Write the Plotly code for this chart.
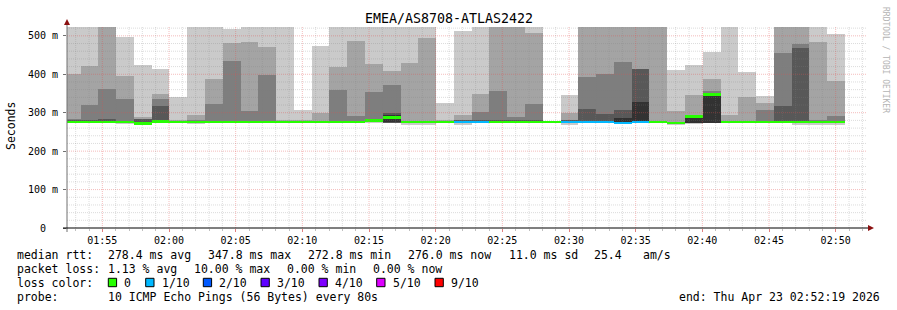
import plotly.graph_objects as go
import pandas as pd

# ---------------- data ----------------
step_start = "2026-04-23 01:52:02"   # first (partially visible) 80 s step
step_seconds = 80

# 10 sorted ping RTTs (ms) per step
rtt_sorted = [
    [274, 275, 275, 276, 276, 277, 279, 284, 402, 560],
    [274, 275, 275, 276, 276, 277, 280, 321, 422, 580],
    [274, 275, 275, 276, 276, 277, 284, 362, 560, 600],
    [270, 274, 275, 276, 276, 277, 278, 336, 396, 498],
    [269, 270, 271, 272, 272.5, 273, 283, 284, 289, 424],
    [274, 275, 276, 276, 277, 279, 318, 336, 349, 414],
    [274, 275, 275, 276, 276, 277, 278, 279, 280, 340],
    [270, 274, 275, 276, 276, 277, 278, 280, 294, 560],
    [274, 275, 275, 276, 276, 277, 278, 323, 388, 600],
    [274, 275, 275, 276, 276, 277, 278, 435, 482, 517],
    [274, 275, 275, 276, 276, 277, 278, 305, 484, 560],
    [274, 275, 275, 276, 276, 277, 278, 398, 471, 580],
    [274, 275, 275, 276, 276, 277, 278, 279, 280, 560],
    [274, 275, 275, 276, 276, 277, 278, 279, 280, 307],
    [274, 275, 275, 276, 276, 277, 278, 279, 299, 474],
    [274, 275, 275, 276, 276, 277, 278, 359, 418, 560],
    [274, 275, 275, 276, 276, 277, 278, 292, 487, 560],
    [274, 275, 276, 277, 278, 280, 282, 354, 427, 560],
    [274, 275, 275, 274, 275, 293, 298, 372, 409, 560],
    [268, 274, 275, 276, 276, 277, 278, 279, 429, 560],
    [268, 274, 275, 276, 276, 277, 278, 279, 495, 560],
    [274, 275, 275, 276, 276, 277, 278, 279, 280, 325],
    [269, 274, 275, 276, 276, 277, 280, 282, 294, 513],
    [274, 275, 275, 276, 276, 277, 280, 302, 349, 560],
    [274, 275, 275, 276, 276, 277, 280, 357, 560, 600],
    [274, 275, 275, 276, 276, 277, 280, 289, 560, 600],
    [274, 275, 275, 276, 276, 277, 280, 323, 508, 560],
    [275, 275, 276, 276, 276, 276, 276, 277, 277, 278],
    [269, 274, 275, 276, 276, 277, 279, 282, 299.5, 346],
    [274, 275, 275, 276, 276, 277, 310, 393, 560, 600],
    [274, 275, 275, 276, 276, 277, 297, 401, 560, 600],
    [270, 271, 272, 272, 273, 286.5, 307, 432, 560, 600],
    [274, 275, 275, 276, 276, 328, 414, 415, 560, 600],
    [274, 275, 275, 276, 276, 277, 278, 279, 560, 600],
    [268, 271, 272, 273, 273, 274, 275, 276, 305, 412],
    [271, 272, 272, 272, 272, 289, 290, 291, 346, 425],
    [273, 274, 274, 274, 274, 344, 352.5, 357, 388, 458],
    [274, 275, 275, 276, 276, 277, 278, 279, 294, 560],
    [274, 275, 275, 276, 276, 277, 278, 279, 341, 406],
    [274, 275, 275, 276, 276, 277, 278, 307, 326, 344],
    [274, 275, 275, 276, 276, 277, 318, 456, 560, 600],
    [267, 274, 275, 276, 276, 277, 469, 478, 560, 600],
    [268, 275, 275, 276, 276, 277, 278, 282, 484, 560],
    [268, 274, 275, 276, 276, 277, 278, 291, 383, 503.5],
]

median_rtt = [
    276, 276, 276, 276, 272.8, 278, 276, 276, 276, 276,
    276, 276, 276, 276, 276, 276, 276, 279, 287, 276,
    276, 276, 276, 276, 276, 276, 276, 276, 276, 276,
    276, 272.9, 276, 276, 273.5, 290, 347.8, 276, 276, 276,
    276, 276, 276, 276,
]

loss_tenths = [
    0, 0, 0, 0, 0, 0, 0, 0, 0, 0,
    0, 0, 0, 0, 0, 0, 0, 0, 0, 0,
    0, 0, 1, 1, 0, 0, 0, 0, 1, 1,
    1, 1, 1, 0, 0, 0, 0, 0, 0, 0,
    0, 0, 0, 0,
]

legend_labels = ["0", "1/10", "2/10", "3/10", "4/10", "5/10", "9/10"]
legend_colors = ["#26ff00", "#00b8ff", "#0059ff", "#5e00ff", "#7e00ff", "#dd00ff", "#ff0000"]
loss_color_by_tenths = {0: "#26ff00", 1: "#00b8ff", 2: "#0059ff", 3: "#5e00ff",
                        4: "#7e00ff", 5: "#dd00ff", 9: "#ff0000"}

y_tick_vals = [0, 100, 200, 300, 400, 500]
y_tick_text = ["0\u00a0\u00a0", "100 m", "200 m", "300 m", "400 m", "500 m"]
x_tick_labels = ["01:55", "02:00", "02:05", "02:10", "02:15", "02:20",
                 "02:25", "02:30", "02:35", "02:40", "02:45", "02:50"]

title_text = "EMEA/AS8708-ATLAS2422"
stats_median = ["median rtt:", "278.4 ms avg", "347.8 ms max", "272.8 ms min",
                "276.0 ms now", "11.0 ms sd", "25.4", "am/s"]
stats_loss = ["packet loss:", "1.13 % avg", "10.00 % max", "0.00 % min", "0.00 % now"]
probe_text = ["probe:", "10 ICMP Echo Pings (56 Bytes) every 80s"]
end_text = "end: Thu Apr 23 02:52:19 2026"

# ---------------- layout geometry ----------------
W, H = 897, 310
L, R, T, B = 67, 30, 27, 82
PW, PH = W - L - R, H - T - B
DAY = "2026-04-23"
x_range = [f"{DAY} 01:52:21", f"{DAY} 02:52:21"]
y_max = 523
MONO = "DejaVu Sans Mono"

def px(x):
    return (x - L) / PW

def py(y):
    return (H - B - y) / PH

times = pd.date_range(step_start, periods=len(median_rtt), freq=f"{step_seconds}s")
smoke_shades = ["#cacaca", "#a4a4a4", "#7e7e7e", "#585858", "#323232"]

fig = go.Figure()
n = len(rtt_sorted)
for k in range(5):
    base = [row[k] for row in rtt_sorted]
    height = [row[9 - k] - row[k] for row in rtt_sorted]
    fig.add_trace(go.Bar(
        x=times, y=height, base=base, width=step_seconds * 1000, offset=0,
        marker=dict(color=smoke_shades[k], line=dict(width=0)),
        showlegend=False, hoverinfo="skip"))

thick = 7
fig.add_trace(go.Bar(
    x=times, y=[thick] * n, base=[m - thick / 2 for m in median_rtt],
    width=step_seconds * 1000, offset=0,
    marker=dict(color=[loss_color_by_tenths[l] for l in loss_tenths], line=dict(width=0)),
    showlegend=False, hoverinfo="skip"))

shapes = []
# grid on top (rrdtool style)
minor_col = "rgba(128,128,128,0.28)"
major_col = "rgba(225,80,80,0.38)"
for v in range(20, y_max, 20):
    shapes.append(dict(type="line", xref="paper", yref="y", x0=0, x1=1, y0=v, y1=v,
                       line=dict(color=major_col if v % 100 == 0 else minor_col,
                                 width=1, dash="1px,1px"), layer="above"))
grid_minutes = pd.date_range(f"{DAY} 01:53:00", f"{DAY} 02:52:00", freq="60s")
for t in grid_minutes:
    shapes.append(dict(type="line", xref="x", yref="paper", x0=t, x1=t, y0=0, y1=1,
                       line=dict(color=major_col if t.minute % 5 == 0 else minor_col,
                                 width=1, dash="1px,1px"), layer="above"))
# axes lines
shapes.append(dict(type="line", xref="paper", yref="paper", x0=px(67), x1=px(67),
                   y0=py(232), y1=py(24), line=dict(color="#707070", width=1), layer="above"))
shapes.append(dict(type="line", xref="paper", yref="paper", x0=px(63), x1=px(869),
                   y0=py(228), y1=py(228), line=dict(color="#000000", width=1), layer="above"))
# arrows
shapes.append(dict(type="path", xref="paper", yref="paper",
                   path=f"M {px(64)} {py(25)} L {px(70)} {py(25)} L {px(67)} {py(19)} Z",
                   fillcolor="#8b1010", line=dict(width=0), layer="above"))
shapes.append(dict(type="path", xref="paper", yref="paper",
                   path=f"M {px(868)} {py(225)} L {px(868)} {py(231)} L {px(874)} {py(228)} Z",
                   fillcolor="#8b1010", line=dict(width=0), layer="above"))

annotations = []
def txt(x, y, s, size=11.5, color="#000000", xanchor="left", angle=0):
    annotations.append(dict(x=px(x), y=py(y), xref="paper", yref="paper", text=s,
                            showarrow=False, xanchor=xanchor, yanchor="middle",
                            textangle=angle, borderpad=0,
                            font=dict(family=MONO, size=size, color=color)))

txt(448.5, 19, title_text, size=13.3, xanchor="center")
txt(11, 126, "Seconds", size=11.5, xanchor="center", angle=-90)
txt(886, 60, "RRDTOOL / TOBI OETIKER", size=8, color="#b4b4b4", xanchor="center", angle=90)

median_x = [16, 107.3, 207.3, 307.3, 407.3, 507.7, 593.3, 642.3]
for x, s in zip(median_x, stats_median):
    txt(x, 254.5, s)
loss_x = [16, 107.3, 193, 286, 372.3]
for x, s in zip(loss_x, stats_loss):
    txt(x, 268.5, s)
txt(16, 282.5, "loss color:")
square_x = [108.3, 145.7, 203.3, 261, 319, 376.7, 435]
for x, c, s in zip(square_x, legend_colors, legend_labels):
    shapes.append(dict(type="rect", xref="paper", yref="paper",
                       x0=px(x), x1=px(x + 8.3), y0=py(286.7), y1=py(278.3),
                       fillcolor=c, line=dict(color="#000000", width=1), layer="above"))
    txt(x + 15, 282.5, s)
txt(16, 296.5, probe_text[0])
txt(107.3, 296.5, probe_text[1])
txt(678.3, 296.5, end_text)

fig.update_layout(
    width=W, height=H, margin=dict(l=L, r=R, t=T, b=B, pad=0),
    paper_bgcolor="#ffffff", plot_bgcolor="#ffffff",
    barmode="overlay", bargap=0, showlegend=False,
    shapes=shapes, annotations=annotations,
    font=dict(family=MONO, size=10, color="#000000"),
    xaxis=dict(type="date", range=x_range, showgrid=False, zeroline=False, showline=False,
               tickvals=pd.date_range(f"{DAY} 01:55:00", periods=len(x_tick_labels), freq="300s"),
               ticktext=x_tick_labels, ticks="outside", ticklen=3, tickcolor="#e08080",
               tickfont=dict(family=MONO, size=10, color="#000000"),
               minor=dict(dtick=60000, ticks="outside", ticklen=2, tickcolor="#c0c0c0")),
    yaxis=dict(range=[0, y_max], showgrid=False, zeroline=False, showline=False,
               tickvals=y_tick_vals, ticktext=y_tick_text, ticks="outside", ticklen=3,
               tickcolor="#707070", ticklabelstandoff=3,
               tickfont=dict(family=MONO, size=10, color="#000000")),
)

fig.write_html("out.html")
